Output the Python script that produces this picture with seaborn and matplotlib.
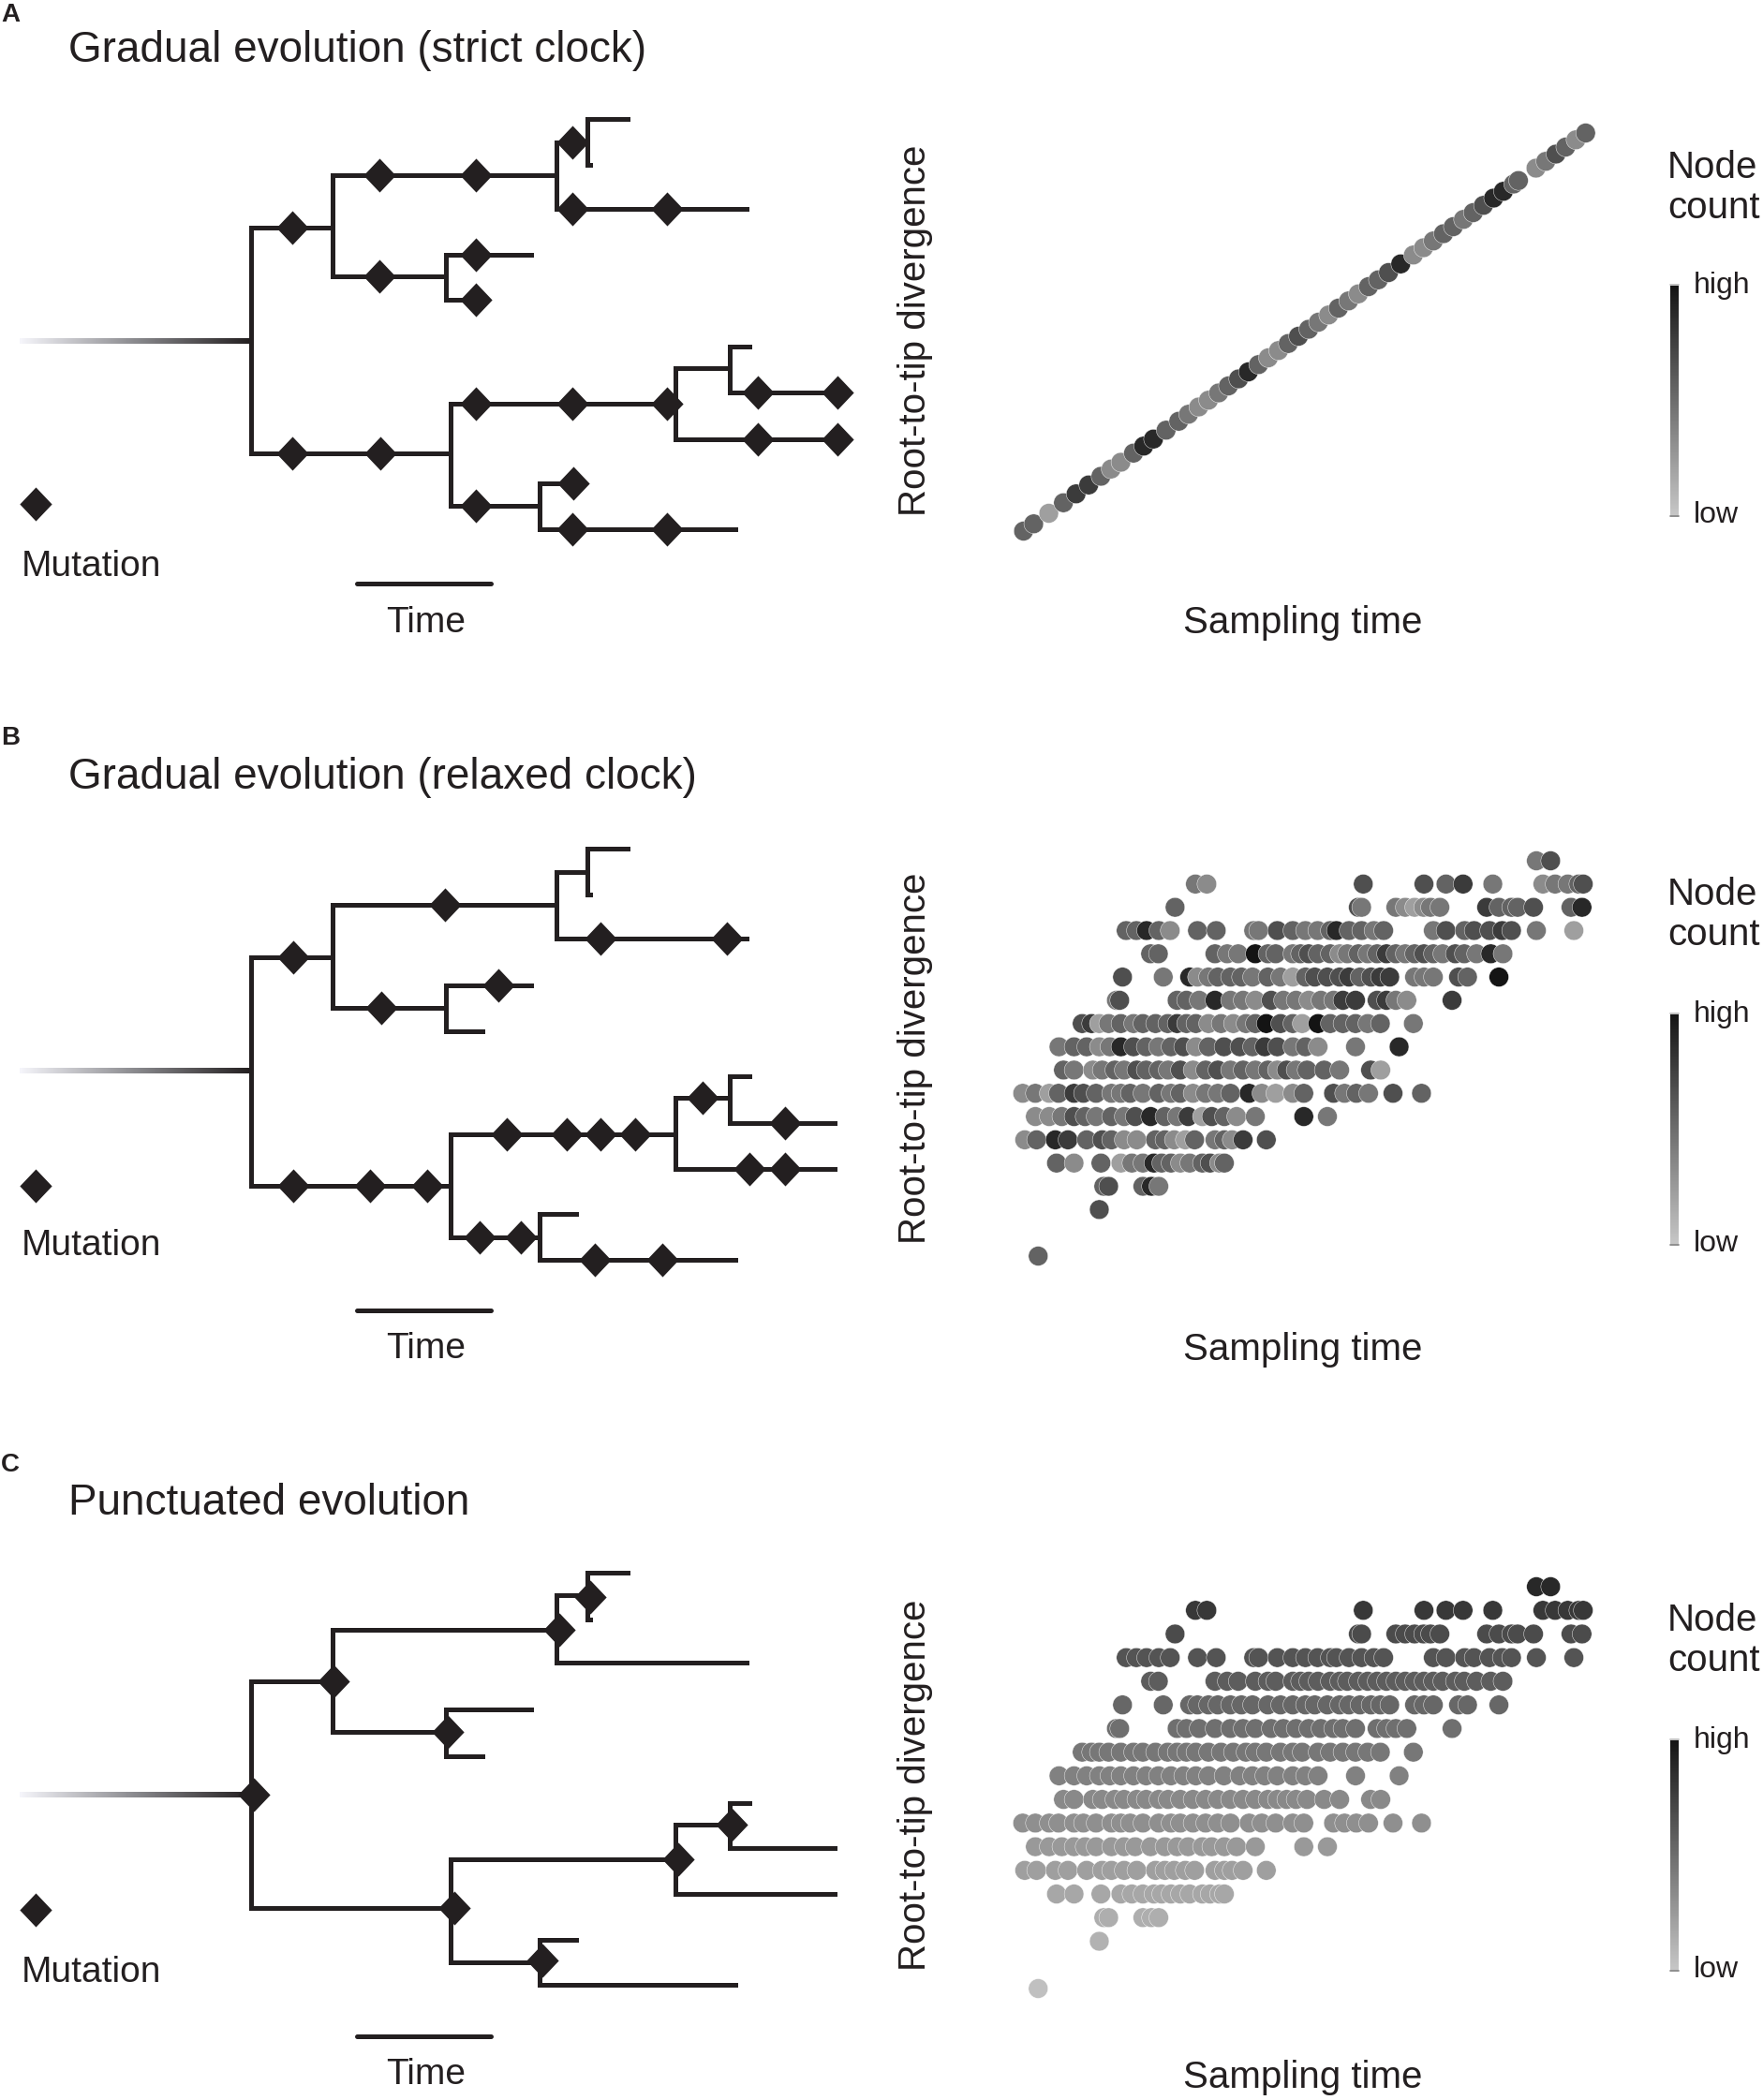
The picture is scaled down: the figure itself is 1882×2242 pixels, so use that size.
import numpy as np
import matplotlib
matplotlib.use("Agg")
import matplotlib.pyplot as plt
from matplotlib.colors import LinearSegmentedColormap, Normalize
import matplotlib.cm as cm
import seaborn as sns
import pandas as pd

sns.set_theme(style="white")
plt.rcParams['font.family'] = ['Liberation Sans', 'DejaVu Sans']

W, H = 1882, 2242
INK = "#231f20"

# ---------------- scatter data ----------------
# sampling time (arbitrary units) of the tips, grouped by root-to-tip divergence
rows_time = {
    0: [134],
    2: [284],
    3: [295, 307, 391, 412, 430],
    4: [179, 222, 288, 337, 364, 391, 418, 437, 460, 483, 506, 537, 556, 579, 591],
    5: [101, 130, 176, 207, 253, 291, 314, 345, 376, 422, 445, 468, 495, 518, 568,
        591, 610, 637, 694],
    6: [127, 161, 192, 222, 249, 276, 314, 345, 372, 410, 445, 475, 502, 537, 560,
        591, 621, 667, 786, 844],
    7: [96, 127, 161, 184, 222, 245, 276, 314, 337, 360, 391, 430, 460, 483, 514,
        545, 575, 606, 652, 683, 717, 759, 786, 859, 886, 915, 945, 1005, 1075],
    8: [196, 222, 268, 291, 322, 345, 376, 399, 430, 453, 483, 514, 545, 575, 606,
        637, 667, 698, 721, 744, 767, 794, 836, 874, 950, 975],
    9: [185, 222, 253, 284, 310, 337, 368, 399, 429, 460, 491, 521, 552, 590, 629,
        660, 690, 721, 759, 790, 821, 913, 1020],
    10: [242, 265, 284, 307, 337, 368, 391, 422, 452, 475, 498, 521, 552, 583, 613,
         644, 667, 694, 729, 759, 782, 821, 851, 882, 913, 943, 974, 1055],
    11: [326, 334, 475, 498, 529, 568, 606, 637, 667, 706, 736, 767, 798, 828, 859,
         882, 913, 966, 989, 1012, 1039, 1150],
    12: [341, 441, 506, 525, 552, 575, 606, 633, 660, 698, 729, 759, 790, 813, 844,
         874, 897, 924, 951, 974, 997, 1058, 1081, 1104, 1166, 1188, 1265],
    13: [410, 429, 568, 598, 625, 667, 698, 717, 759, 778, 798, 821, 851, 874, 893,
         920, 943, 966, 989, 1012, 1035, 1058, 1081, 1104, 1127, 1158, 1180, 1210,
         1245, 1275],
    14: [350, 375, 400, 430, 458, 525, 571, 663, 675, 721, 759, 790, 820, 851, 866,
         897, 928, 958, 982, 1104, 1135, 1181, 1204, 1242, 1273, 1296, 1357, 1449],
    15: [470, 920, 928, 1012, 1035, 1058, 1080, 1097, 1120, 1235, 1265, 1296, 1311,
         1350, 1442, 1469],
    16: [520, 548, 932, 1081, 1135, 1177, 1250, 1373, 1403, 1434, 1461, 1472],
    17: [1357, 1392],
}

# node count (0 = low ... 9 = high), one digit per tip, relaxed clock (B)
rows_count_relaxed = {
    0: "5",
    2: "6",
    3: "56584",
    4: "535244855345635",
    5: "3587565335532545376",
    6: "33465454685472653484",
    7: "34257654454545344583235645465",
    8: "54345465546356454536455462",
    9: "45534865456356657645348",
    10: "6724545557553434596529555454",
    11: "4655484436443447767437",
    12: "648345554542566675677444659",
    13: "555449554565534545754565465484",
    14: "5585355446544585545465667642",
    15: "5644323447555658",
    16: "436657434456",
    17: "46",
}

# node count per divergence level, punctuated evolution (C)
rows_count_punct = {0: 0.3, 2: 1.0, 3: 1.2, 4: 1.6, 5: 2.0, 6: 2.3, 7: 2.8, 8: 3.1,
                    9: 3.5, 10: 4.0, 11: 4.4, 12: 4.8, 13: 5.3, 14: 5.8, 15: 6.2,
                    16: 7.2, 17: 8.0}

# strict clock (A): tips along a line
strict_time = [98, 123, 160, 196, 227, 258, 288, 313, 337, 368, 393, 417, 448, 479,
               503, 528, 552, 577, 601, 626, 650, 675, 699, 724, 748, 773, 798, 822,
               847, 871, 896, 920, 945, 969, 994, 1024, 1055, 1080, 1104, 1129, 1153,
               1178, 1202, 1227, 1252, 1276, 1301, 1313, 1356, 1380, 1405, 1429, 1454,
               1478]
strict_div = [0.00, 0.31, 0.76, 1.21, 1.59, 1.97, 2.34, 2.65, 2.94, 3.33, 3.63, 3.93,
              4.31, 4.69, 4.99, 5.30, 5.59, 5.90, 6.20, 6.50, 6.80, 7.11, 7.40, 7.71,
              8.01, 8.32, 8.62, 8.92, 9.23, 9.52, 9.83, 10.13, 10.44, 10.73, 11.04,
              11.41, 11.79, 12.10, 12.39, 12.70, 13.00, 13.31, 13.60, 13.91, 14.22,
              14.51, 14.82, 14.97, 15.50, 15.79, 16.10, 16.40, 16.71, 17.00]
strict_count = ("55257" "75335" "88554" "33456" "85335" "65435" "43556" "83345"
                "54568" "85534" "6535")

# ---------------- tree data (x: time, y: tip position) ----------------
tree_a = {
    "stem": 364,
    "h": [(243, 268, 355), (187, 355, 594), (152, 594, 627), (127, 627, 670),
          (176, 627, 630), (223, 594, 797), (295, 355, 476), (272, 476, 567),
          (320, 476, 509), (484, 268, 481), (431, 481, 721), (393, 721, 779),
          (370, 779, 800), (419, 779, 894), (469, 721, 894), (540, 481, 576),
          (516, 576, 612), (565, 576, 785)],
    "v": [(268, 243, 484), (355, 187, 295), (594, 152, 223), (627, 127, 176),
          (476, 272, 320), (481, 431, 540), (721, 393, 469), (779, 370, 419),
          (576, 516, 565)],
    "mut": [(312, 243), (405, 187), (508, 187), (611, 152), (611, 223), (712, 223),
            (508, 272), (405, 295), (508, 320), (312, 484), (406, 484), (508, 431),
            (611, 431), (712, 431), (809, 419), (894, 419), (809, 469), (894, 469),
            (508, 540), (612, 516), (611, 565), (712, 565)],
}
tree_b = {
    "stem": 373,
    "h": [(252, 268, 355), (196, 355, 594), (161, 594, 627), (136, 627, 670),
          (185, 627, 630), (232, 594, 797), (306, 355, 476), (282, 476, 567),
          (331, 476, 515), (496, 268, 481), (441, 481, 721), (402, 721, 779),
          (379, 779, 800), (429, 779, 891), (478, 721, 891), (551, 481, 576),
          (526, 576, 615), (575, 576, 785)],
    "v": [(268, 252, 496), (355, 196, 306), (594, 161, 232), (627, 136, 185),
          (476, 282, 331), (481, 441, 551), (721, 402, 478), (779, 379, 429),
          (576, 526, 575)],
    "mut": [(313, 252), (475, 196), (641, 232), (776, 232), (532, 282), (407, 306),
            (313, 496), (395, 496), (456, 496), (541, 441), (605, 441), (641, 441),
            (678, 441), (750, 402), (838, 429), (800, 478), (838, 478), (512, 551),
            (556, 551), (635, 575), (707, 575)],
}
tree_c = {
    "stem": 376,
    "h": [(255, 268, 355), (200, 355, 594), (163, 594, 627), (139, 627, 670),
          (189, 627, 630), (235, 594, 797), (309, 355, 476), (285, 476, 567),
          (335, 476, 515), (497, 268, 481), (445, 481, 721), (408, 721, 779),
          (385, 779, 800), (433, 779, 891), (482, 721, 891), (555, 481, 576),
          (531, 576, 615), (579, 576, 785)],
    "v": [(268, 255, 497), (355, 200, 309), (594, 163, 235), (627, 139, 189),
          (476, 285, 335), (481, 445, 555), (721, 408, 482), (779, 385, 433),
          (576, 531, 579)],
    "mut": [(271, 376), (356, 255), (597, 200), (630, 165), (478, 309), (485, 497),
            (724, 445), (781, 408), (579, 553)],
}

titles = ["Gradual evolution (strict clock)", "Gradual evolution (relaxed clock)",
          "Punctuated evolution"]
panel_labels = ["A", "B", "C"]

# ---------------- build frames ----------------
def tips_frame(counts):
    recs = []
    for lvl, xs in rows_time.items():
        for i, t in enumerate(xs):
            c = counts[lvl]
            val = float(c[i]) if isinstance(c, str) else c
            recs.append((t, lvl, val))
    return pd.DataFrame(recs, columns=["time", "div", "count"])

df_a = pd.DataFrame({"time": strict_time, "div": strict_div,
                     "count": [float(c) for c in strict_count]})
df_b = tips_frame(rows_count_relaxed)
df_c = tips_frame(rows_count_punct)

cmap = LinearSegmentedColormap.from_list("nodes", ["#c6c6c6", "#141414"])
stem_cmap = LinearSegmentedColormap.from_list("stem", ["#f6f6fb", "#8a8a8e", INK])
DIAMOND = [(0, 1), (0.95, 0), (0, -1), (-0.95, 0), (0, 1)]

fig = plt.figure(figsize=(W / 100, H / 100), dpi=100)


def px_rect(x, y, w, h):
    return [x / W, 1 - (y + h) / H, w / W, h / H]


row_tops = [0, 770, 1540]
# per row layout (row-relative pixel positions)
lay = [
    dict(lab=16, title=54, leg=538, mut=605, bar=623, time=665, rtt=353, samp=665,
         node=179, count=222, cb=305, y0=567, y17=142),
    dict(lab=18, title=60, leg=496, mut=560, bar=629, time=670, rtt=360, samp=671,
         node=185, count=228, cb=313, y0=571, y17=149),
    dict(lab=24, title=65, leg=499, mut=566, bar=634, time=675, rtt=366, samp=678,
         node=190, count=233, cb=318, y0=583, y17=154),
]
trees = [tree_a, tree_b, tree_c]
frames = [df_a, df_b, df_c]

BAND = 702
LW = 3.6
for k in range(3):
    top = row_tops[k]
    L = lay[k]
    tree = trees[k]

    band = fig.add_axes(px_rect(0, top, W, BAND))
    band.axis("off")

    # stem fading in from the left
    grad = stem_cmap(np.linspace(0, 1, 256))[None, :, :]
    band.imshow(grad, extent=[21, 268, tree["stem"] + 2.6, tree["stem"] - 2.6],
                aspect="auto", interpolation="bilinear", zorder=2)
    for y, x0, x1 in tree["h"]:
        band.plot([x0, x1], [y, y], color=INK, lw=LW, solid_capstyle="projecting")
    for x, y0, y1 in tree["v"]:
        band.plot([x, x], [y0, y1], color=INK, lw=LW, solid_capstyle="projecting")
    mx, my = zip(*tree["mut"])
    band.plot(mx, my, ls="none", marker=DIAMOND, ms=26, color=INK, mew=0, zorder=4)

    # legend + time bar
    band.plot([38], [L["leg"]], ls="none", marker=DIAMOND, ms=26, color=INK, mew=0)
    band.text(97, L["mut"], "Mutation", fontsize=28, ha="center", va="center", color=INK)
    band.plot([381, 524], [L["bar"], L["bar"]], color=INK, lw=LW)
    band.text(455, L["time"], "Time", fontsize=28, ha="center", va="center", color=INK)

    band.text(1, L["lab"], panel_labels[k], fontsize=20, fontweight="bold",
              ha="left", va="center", color=INK)
    band.text(73, L["title"], titles[k], fontsize=33, ha="left", va="center", color=INK)

    band.text(977, L["rtt"], "Root-to-tip divergence", fontsize=29, rotation=90,
              ha="center", va="center", color=INK)
    band.text(1391, L["samp"], "Sampling time", fontsize=29, ha="center", va="center",
              color=INK)
    band.text(1780, L["node"], "Node", fontsize=29, ha="left", va="center", color=INK)
    band.text(1780, L["count"], "count", fontsize=29, ha="left", va="center", color=INK)
    band.text(1808, L["cb"], "high", fontsize=23, ha="left", va="center", color=INK)
    band.text(1808, L["cb"] + 245, "low", fontsize=23, ha="left", va="center", color=INK)
    # small end caps of the colour key
    band.plot([1783, 1792], [L["cb"] - 1, L["cb"] - 1], color="#b8b8b8", lw=1.2)
    band.plot([1783, 1792], [L["cb"] + 246, L["cb"] + 246], color="#7a7a7a", lw=1.2)
    band.set_xlim(0, W)
    band.set_ylim(BAND, 0)

    # scatter
    sp = (L["y0"] - L["y17"]) / 17.0
    ax_top = top + L["y17"] - 1.5 * sp
    ax = fig.add_axes(px_rect(1050, ax_top, 674, 20 * sp))
    sns.scatterplot(data=frames[k], x="time", y="div", hue="count", palette=cmap,
                    hue_norm=(0, 9), s=225, edgecolor="white", linewidth=0.3,
                    legend=False, ax=ax)
    ax.set_xlim(0, 1550)
    ax.set_ylim(-1.5, 18.5)
    ax.axis("off")

    # colorbar
    cax = fig.add_axes(px_rect(1783, top + L["cb"], 9, 245))
    cb = fig.colorbar(cm.ScalarMappable(norm=Normalize(0, 9), cmap=cmap), cax=cax)
    cb.outline.set_visible(False)
    cb.set_ticks([])

fig.savefig("out.png", dpi=100)
